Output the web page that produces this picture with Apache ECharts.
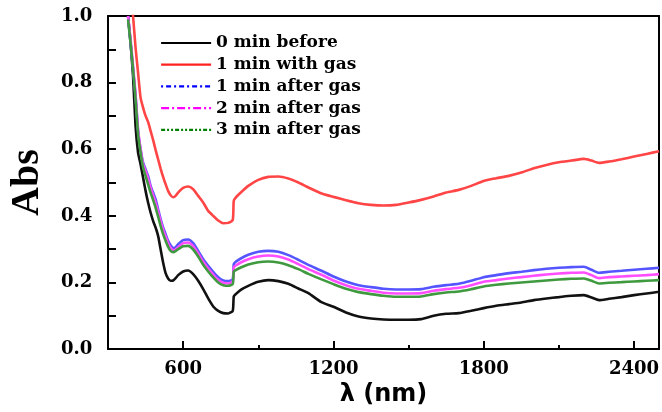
<!DOCTYPE html>
<html>
<head>
<meta charset="utf-8">
<script src="https://cdn.jsdelivr.net/npm/echarts@6/dist/echarts.min.js"></script>
<style>html,body{margin:0;padding:0;background:#fff;}#c{width:662px;height:412px;}</style>
</head>
<body>
<div id="c"></div>
<script>
const wavelengths = [380,390,400,410,420,430,440,450,460,470,480,490,500,510,520,530,540,550,560,570,580,600,620,640,660,680,700,720,740,760,780,798,802,810,830,860,900,940,980,1020,1060,1100,1150,1200,1250,1300,1350,1400,1450,1500,1550,1600,1650,1700,1750,1800,1850,1900,1950,2000,2050,2100,2150,2200,2230,2260,2300,2350,2400,2450,2500];
const seriesNames = ['0 min before','1 min with gas','1 min after gas','2 min after gas','3 min after gas'];
const black0 = [1.00,0.92,0.82,0.67,0.59,0.555,0.515,0.475,0.44,0.41,0.385,0.365,0.34,0.30,0.26,0.228,0.212,0.205,0.206,0.213,0.222,0.233,0.236,0.225,0.205,0.18,0.152,0.128,0.115,0.108,0.107,0.115,0.158,0.165,0.178,0.19,0.202,0.207,0.204,0.196,0.182,0.168,0.142,0.127,0.11,0.098,0.092,0.089,0.088,0.088,0.09,0.1,0.106,0.108,0.115,0.123,0.13,0.135,0.14,0.147,0.152,0.156,0.16,0.162,0.155,0.147,0.151,0.156,0.162,0.167,0.172];
const red1 = [1.15,1.07,1.00,0.905,0.83,0.755,0.725,0.70,0.682,0.655,0.628,0.598,0.57,0.542,0.517,0.495,0.475,0.462,0.456,0.46,0.47,0.484,0.488,0.48,0.46,0.44,0.415,0.40,0.386,0.378,0.379,0.388,0.445,0.455,0.47,0.49,0.508,0.517,0.518,0.512,0.50,0.485,0.468,0.457,0.447,0.438,0.433,0.431,0.433,0.44,0.448,0.458,0.47,0.478,0.49,0.505,0.513,0.52,0.53,0.543,0.553,0.561,0.566,0.571,0.566,0.559,0.563,0.57,0.578,0.586,0.594];
const blue1 = [1.00,0.92,0.84,0.76,0.655,0.60,0.56,0.54,0.52,0.49,0.47,0.45,0.42,0.39,0.365,0.345,0.325,0.312,0.303,0.306,0.315,0.327,0.329,0.318,0.295,0.27,0.25,0.232,0.216,0.206,0.204,0.21,0.255,0.262,0.272,0.283,0.292,0.295,0.292,0.282,0.268,0.253,0.236,0.218,0.203,0.192,0.186,0.181,0.179,0.179,0.18,0.187,0.192,0.196,0.205,0.216,0.222,0.228,0.232,0.237,0.241,0.244,0.246,0.247,0.238,0.229,0.232,0.235,0.238,0.241,0.244];
const magenta2 = [1.00,0.93,0.85,0.765,0.66,0.60,0.555,0.535,0.512,0.485,0.462,0.44,0.413,0.384,0.358,0.338,0.318,0.304,0.297,0.299,0.306,0.318,0.32,0.309,0.287,0.262,0.242,0.224,0.208,0.199,0.197,0.203,0.245,0.251,0.26,0.27,0.278,0.281,0.278,0.269,0.255,0.24,0.224,0.206,0.192,0.181,0.175,0.169,0.167,0.167,0.168,0.175,0.18,0.184,0.192,0.202,0.207,0.212,0.216,0.22,0.224,0.227,0.229,0.23,0.222,0.213,0.216,0.218,0.22,0.222,0.225];
const green3 = [0.99,0.92,0.84,0.75,0.645,0.59,0.545,0.52,0.495,0.47,0.448,0.425,0.398,0.37,0.345,0.325,0.307,0.295,0.291,0.294,0.30,0.309,0.31,0.299,0.278,0.253,0.233,0.215,0.20,0.192,0.19,0.195,0.232,0.237,0.245,0.254,0.261,0.263,0.26,0.252,0.24,0.226,0.21,0.195,0.181,0.171,0.165,0.16,0.157,0.157,0.158,0.165,0.17,0.173,0.18,0.188,0.193,0.197,0.20,0.203,0.206,0.209,0.211,0.212,0.205,0.197,0.199,0.201,0.203,0.205,0.207];
const xMajorTicks = [600,1200,1800,2400];
const xMinorTicks = [900,1500,2100];

const valuesList = [black0, red1, blue1, magenta2, green3];
const plotColors = ['#111111','#ff4545','#5555ff','#ff4dff','#3f9a3f'];
const legendColors = ['#000000','#ff2020','#0000ff','#ff00ff','#008000'];
const legendDash = ['solid','solid',[2,3,5,3],[8,3,2,3],[4,2,2,2,2,2]];

function pairs(vals){ return wavelengths.map((w,i)=>[w, vals[i]]); }

const chart = echarts.init(document.getElementById('c'), null, {renderer:'canvas'});
const serif = 'DejaVu Serif';
const boxAxis = {show:true,lineStyle:{color:'#000',width:2}};
chart.setOption({
  animation:false,
  backgroundColor:'#fff',
  grid:{left:106,right:2,top:16,bottom:58},
  legend:{
    show:true, padding:0,
    orient:'vertical', left:160, top:34, itemWidth:50, itemHeight:14, itemGap:3.7,
    textStyle:{fontFamily:serif,fontWeight:'bold',fontSize:17,color:'#000',lineHeight:18},
    data: seriesNames.map((n,i)=>({name:n, lineStyle:{color:legendColors[i],width:2.2,type:legendDash[i]}, itemStyle:{color:legendColors[i],opacity:0}}))
  },
  xAxis:[{
    type:'value', min:300, max:2500,
    name:'λ (nm)', nameLocation:'middle', nameGap:31,
    nameTextStyle:{fontFamily:'DejaVu Sans',fontWeight:'bold',fontSize:24,color:'#000'},
    axisLine:boxAxis,
    axisTick:{show:true,inside:true,length:8,lineStyle:{color:'#000',width:2},customValues:xMajorTicks},
    axisLabel:{show:true,customValues:xMajorTicks,formatter:v=>String(v),margin:11,fontFamily:serif,fontWeight:'bold',fontSize:18,color:'#000'},
    splitLine:{show:false}
  },{
    type:'value', min:300, max:2500, position:'bottom',
    axisLine:{show:false},
    axisTick:{show:true,inside:true,length:4,lineStyle:{color:'#000',width:2},customValues:xMinorTicks},
    axisLabel:{show:false},
    splitLine:{show:false}
  },{
    type:'value', min:300, max:2500, position:'top',
    axisLine:boxAxis, axisTick:{show:false}, axisLabel:{show:false}, splitLine:{show:false}
  }],
  yAxis:[{
    type:'value', min:0, max:1, interval:0.2,
    name:'Abs', nameLocation:'middle', nameGap:60,
    nameTextStyle:{fontFamily:'Liberation Serif',fontWeight:'bold',fontSize:40,color:'#000'},
    axisLine:boxAxis,
    axisTick:{show:true,inside:true,length:8,lineStyle:{color:'#000',width:2}},
    minorTick:{show:true,splitNumber:2,length:8,lineStyle:{color:'#000',width:2}},
    axisLabel:{formatter:v=>v.toFixed(1),align:'left',margin:47,fontFamily:serif,fontWeight:'bold',fontSize:18,color:'#000'},
    splitLine:{show:false}
  },{
    type:'value', min:0, max:1, position:'right',
    axisLine:boxAxis, axisTick:{show:false}, axisLabel:{show:false}, splitLine:{show:false}
  }],
  series: seriesNames.map((n,i)=>({
    name:n, type:'line', xAxisIndex:0, yAxisIndex:0, data:pairs(valuesList[i]), symbol:'none', smooth:0.2,
    clip:true, lineStyle:{color:plotColors[i],width:2.6}, itemStyle:{color:legendColors[i]}
  }))
});
</script>
</body>
</html>
